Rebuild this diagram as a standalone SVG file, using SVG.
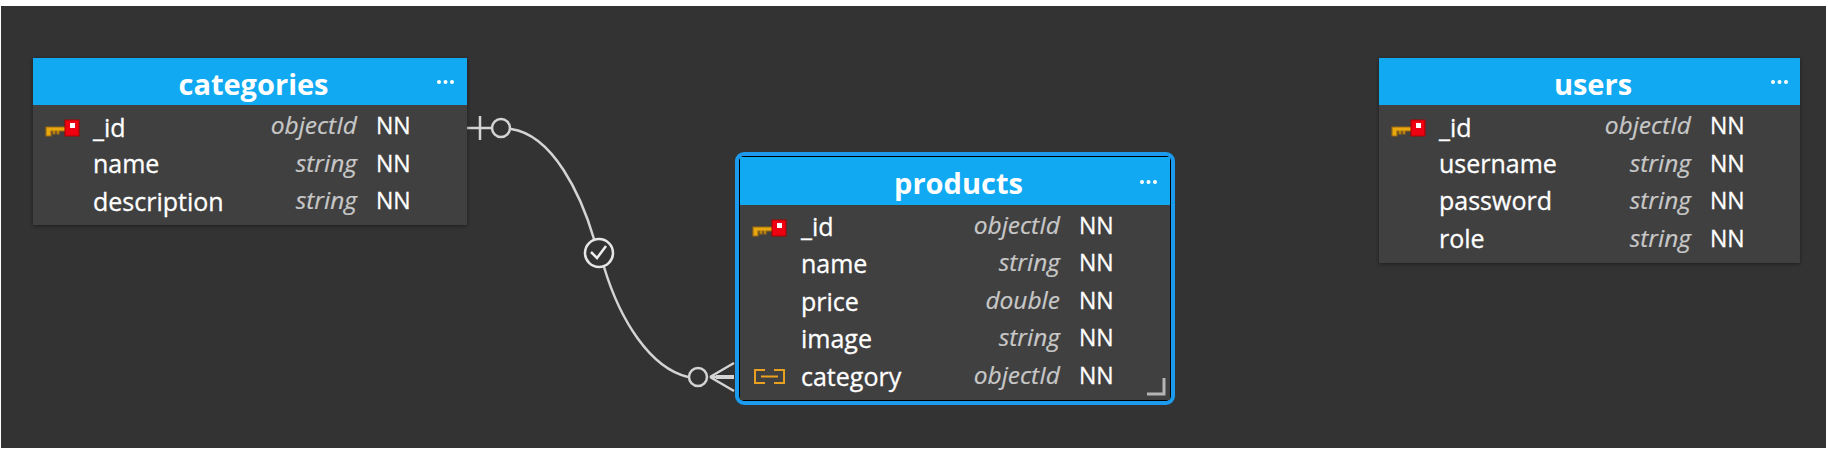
<svg xmlns="http://www.w3.org/2000/svg" width="1828" height="451" viewBox="0 0 1828 451">
<style>
text{font-family:"Open Sans","Noto Sans","DejaVu Sans",sans-serif}
.body{fill:#404040}
.head{fill:#10a9f2}
.title{font-size:29px;font-weight:700;fill:#fff;text-anchor:middle}
.col{font-size:25px;fill:#fff;stroke:#fff;stroke-width:.3}
.type{font-size:24.5px;font-style:italic;fill:#c8c8c8;text-anchor:end;stroke:#c8c8c8;stroke-width:.2}
.nn{font-size:23px;fill:#fff;stroke:#fff;stroke-width:.3}
.conn{fill:none;stroke:#d4d4d4;stroke-width:2.5}
.dot{fill:#fff}
</style>
<defs>
<filter id="sh" x="-5%" y="-5%" width="110%" height="112%"><feDropShadow dx="0" dy="1" stdDeviation="2" flood-color="#000" flood-opacity=".45"/></filter>
<g id="pk">
<path d="M0 3H20V7H13V10H11V7H9V10H7V7H5V12H0Z" fill="#e9a810" stroke="#9a6a10" stroke-width="1.2"/>
<rect x="19" y="-4" width="14" height="16" fill="#ee0010" stroke="#a00" stroke-width="1"/>
<rect x="24" y="-1" width="5" height="5" fill="#fff"/>
</g>
<g id="more"><circle cx="0" cy="0" r="2" class="dot"/><circle cx="6.500" cy="0" r="2" class="dot"/><circle cx="13" cy="0" r="2" class="dot"/></g>
</defs>
<rect width="1828" height="451" fill="#fff"/>
<rect x="1" y="6" width="1825" height="442" fill="#333"/>
<g id="connectors" class="conn">
<path d="M467 128H492M480 116V140"/>
<circle cx="501" cy="128" r="9"/>
<path d="M511 129C553 135 581 195 594 239"/>
<circle cx="599" cy="253" r="14" stroke="#e6e6e6"/>
<path d="M604 267C620 320 650 368 688 377"/>
<circle cx="698" cy="377" r="9"/>
<path d="M710 377L734 363M710 377H734M710 377L734 391"/>
<path d="M716 377H734" stroke-width="4"/>
<path d="M591 252L597 258L606 246" stroke="#eee"/>
</g>
<g id="categories">
<rect x="33" y="58" width="434" height="167" class="body" filter="url(#sh)"/>
<rect x="33" y="58" width="434" height="47" class="head"/>
<text x="253.500" y="95" class="title">categories</text>
<use href="#more" x="439" y="82"/>
<use href="#pk" x="46" y="124"/>
<text x="93" y="137" class="col">_id</text>
<text x="93" y="173" class="col">name</text>
<text x="93" y="211" class="col">description</text>
<text x="357" y="134" class="type">objectId</text>
<text x="357" y="172" class="type">string</text>
<text x="357" y="209" class="type">string</text>
<text x="376" y="134" class="nn">NN</text>
<text x="376" y="172" class="nn">NN</text>
<text x="376" y="209" class="nn">NN</text>
</g>
<g id="products">
<rect x="737" y="154" width="436" height="249" rx="7" fill="#000" stroke="#1b9aee" stroke-width="4"/>
<rect x="740" y="157" width="430" height="243" class="body"/>
<rect x="740" y="157" width="430" height="48" class="head"/>
<text x="958.500" y="194" class="title">products</text>
<use href="#more" x="1142" y="182"/>
<use href="#pk" x="753" y="224"/>
<text x="801" y="236" class="col">_id</text>
<text x="801" y="273" class="col">name</text>
<text x="801" y="311" class="col">price</text>
<text x="801" y="348" class="col">image</text>
<text x="801" y="386" class="col">category</text>
<text x="1060" y="234" class="type">objectId</text>
<text x="1060" y="271" class="type">string</text>
<text x="1060" y="309" class="type">double</text>
<text x="1060" y="346" class="type">string</text>
<text x="1060" y="384" class="type">objectId</text>
<text x="1079" y="234" class="nn">NN</text>
<text x="1079" y="271" class="nn">NN</text>
<text x="1079" y="309" class="nn">NN</text>
<text x="1079" y="346" class="nn">NN</text>
<text x="1079" y="384" class="nn">NN</text>
<path d="M765 370H755V383H765M774 370H784V383H774M761 376.500H778" fill="none" stroke="#e9a020" stroke-width="2"/>
<path d="M1147 394H1164V378" fill="none" stroke="#b4b4b4" stroke-width="3"/>
</g>
<g id="users">
<rect x="1379" y="58" width="421" height="205" class="body" filter="url(#sh)"/>
<rect x="1379" y="58" width="421" height="47" class="head"/>
<text x="1593" y="95" class="title">users</text>
<use href="#more" x="1773" y="82"/>
<use href="#pk" x="1392" y="124"/>
<text x="1439" y="137" class="col">_id</text>
<text x="1439" y="173" class="col">username</text>
<text x="1439" y="210" class="col">password</text>
<text x="1439" y="248" class="col">role</text>
<text x="1691" y="134" class="type">objectId</text>
<text x="1691" y="172" class="type">string</text>
<text x="1691" y="209" class="type">string</text>
<text x="1691" y="247" class="type">string</text>
<text x="1710" y="134" class="nn">NN</text>
<text x="1710" y="172" class="nn">NN</text>
<text x="1710" y="209" class="nn">NN</text>
<text x="1710" y="247" class="nn">NN</text>
</g>
</svg>
